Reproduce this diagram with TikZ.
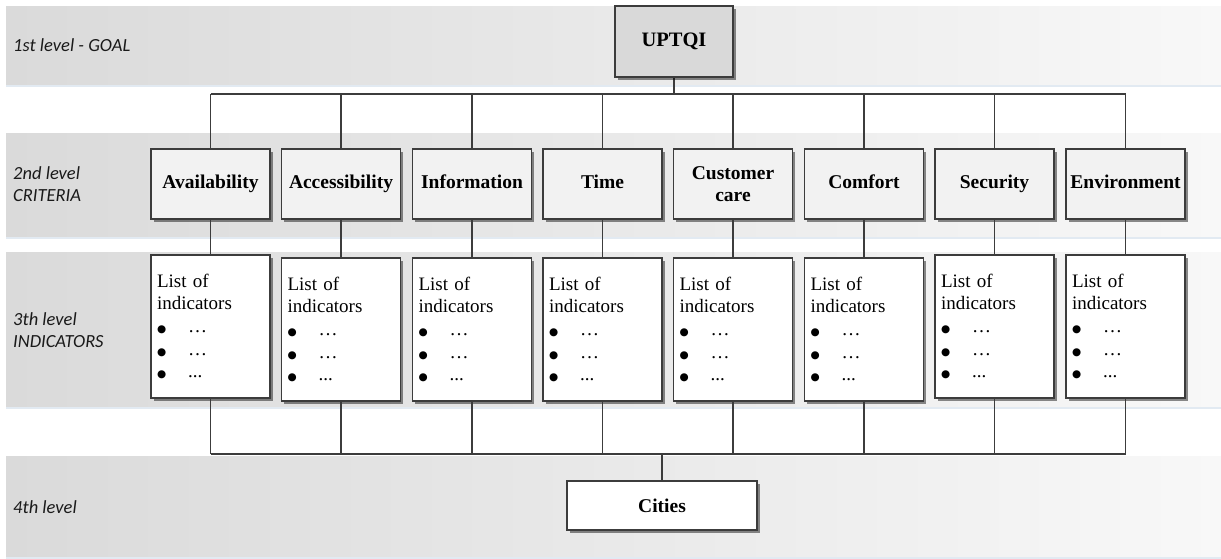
\documentclass[tikz,border=0pt]{standalone}
\usepackage{fontspec}
\setmainfont{Liberation Serif}
\newfontfamily\labelfont{Carlito}
\newfontfamily\symfont{DejaVu Sans}
\usetikzlibrary{shadows}

\definecolor{bandleft}{HTML}{DADADA}
\definecolor{bandright}{HTML}{F8F8F8}
\definecolor{bandedge}{HTML}{E2EAF2}
\definecolor{linegray}{HTML}{3C3C3C}
\definecolor{critfill}{HTML}{F2F2F2}
\definecolor{goalfill}{HTML}{D9D9D9}
\definecolor{labeltext}{HTML}{1A1A1A}

\newcommand\bigbullet{{\symfont\fontsize{10.5}{10}\selectfont ●}}
\newcommand\indlist{List of\\indicators\\
  \makebox[31pt][l]{\bigbullet}\ldots\\
  \makebox[31pt][l]{\bigbullet}\ldots\\
  \makebox[31pt][l]{\bigbullet}...}

\tikzset{
  band/.style={left color=bandleft, right color=bandright, draw=none},
  levellabel/.style={anchor=west, align=left, inner sep=0pt, text=labeltext,
    font=\labelfont\itshape\fontsize{18.5}{22.5}\selectfont},
  boxshadow/.style={drop shadow={shadow xshift=2.5pt, shadow yshift=-2.5pt,
    fill=black, opacity=0.45}},
  goalbox/.style={draw=linegray, line width=1.2pt, fill=goalfill, boxshadow,
    minimum width=118pt, minimum height=71pt, inner sep=0pt,
    font=\bfseries\fontsize{20.5}{22}\selectfont},
  critbox/.style={draw=linegray, line width=1.2pt, fill=critfill, boxshadow,
    minimum width=119pt, minimum height=70pt, inner sep=0pt, align=center,
    text height=13pt, text depth=4.5pt,
    font=\bfseries\fontsize{19.5}{22.5}\selectfont},
  twoline/.style={text height={}, text depth={}},
  indbox/.style={draw=linegray, line width=1.2pt, fill=white, boxshadow,
    text width=107pt, inner xsep=6pt, inner ysep=0pt, minimum height=143pt,
    align=left, font=\fontsize{19}{22.6}\selectfont},
  citybox/.style={draw=linegray, line width=1.2pt, fill=white, boxshadow,
    minimum width=190pt, minimum height=49pt, inner sep=0pt,
    font=\bfseries\fontsize{19.5}{22}\selectfont},
  link/.style={draw=linegray, line width=1.2pt},
  trunk/.style={draw=linegray, line width=2.6pt}
}

\begin{document}
\begin{tikzpicture}[x=1pt, y=-1pt]
\useasboundingbox (0,0) rectangle (1221,558);

% level bands
\foreach \top/\bot in {6/84, 133/236, 252/406, 456/556}{
  \fill[bandedge] (6,\bot) rectangle (1221,\bot+2.5);
  \shade[band] (6,\top) rectangle (1221,\bot);
}

% level labels
\node[levellabel] (lab1) at (13,45) {1st level - GOAL};
\node[levellabel] (lab2) at (13,184) {2nd level\\CRITERIA};
\node[levellabel] (lab3) at (13,330) {3th level\\INDICATORS};
\node[levellabel] (lab4) at (13,507) {4th level};

% bus coordinates
\coordinate (topbus) at (0,94);
\coordinate (botbus) at (0,454);

% connectors (drawn first so the boxes sit on top)
\draw[trunk] (674,77) -- (674,94);
\draw[link] (210.5,94) -- (1125.5,94);
\draw[link] (210.5,454) -- (1125.5,454);

% goal and cities
\node[goalbox] (goal) at (674,41.5) {UPTQI};
\node[citybox] (cities) at (662,505.5) {Cities};

% criteria
\node[critbox] (c1) at (210.5,184) {Availability};
\node[critbox] (c2) at (341,184) {Accessibility};
\node[critbox] (c3) at (472,184) {Information};
\node[critbox] (c4) at (602.5,184) {Time};
\node[critbox, twoline] (c5) at (733,184) {Customer\\care};
\node[critbox] (c6) at (864,184) {Comfort};
\node[critbox] (c7) at (994.5,184) {Security};
\node[critbox] (c8) at (1125.5,184) {Environment};

% indicator lists
\node[indbox] (i1) at (210.5,326.5) {\indlist};
\node[indbox] (i2) at (341,329.5) {\indlist};
\node[indbox] (i3) at (472,329.5) {\indlist};
\node[indbox] (i4) at (602.5,329.5) {\indlist};
\node[indbox] (i5) at (733,329.5) {\indlist};
\node[indbox] (i6) at (864,329.5) {\indlist};
\node[indbox] (i7) at (994.5,326.5) {\indlist};
\node[indbox] (i8) at (1125.5,326.5) {\indlist};

% vertical links between levels
\draw[link, line width=2pt] (cities.north |- botbus) -- (cities.north);
\foreach \i in {1,...,8}{
  \draw[link] (c\i.north |- topbus) -- (c\i.north);
  \draw[link] (c\i.south) -- (i\i.north);
  \draw[link] (i\i.south) -- (i\i.south |- botbus);
}
\end{tikzpicture}
\end{document}
